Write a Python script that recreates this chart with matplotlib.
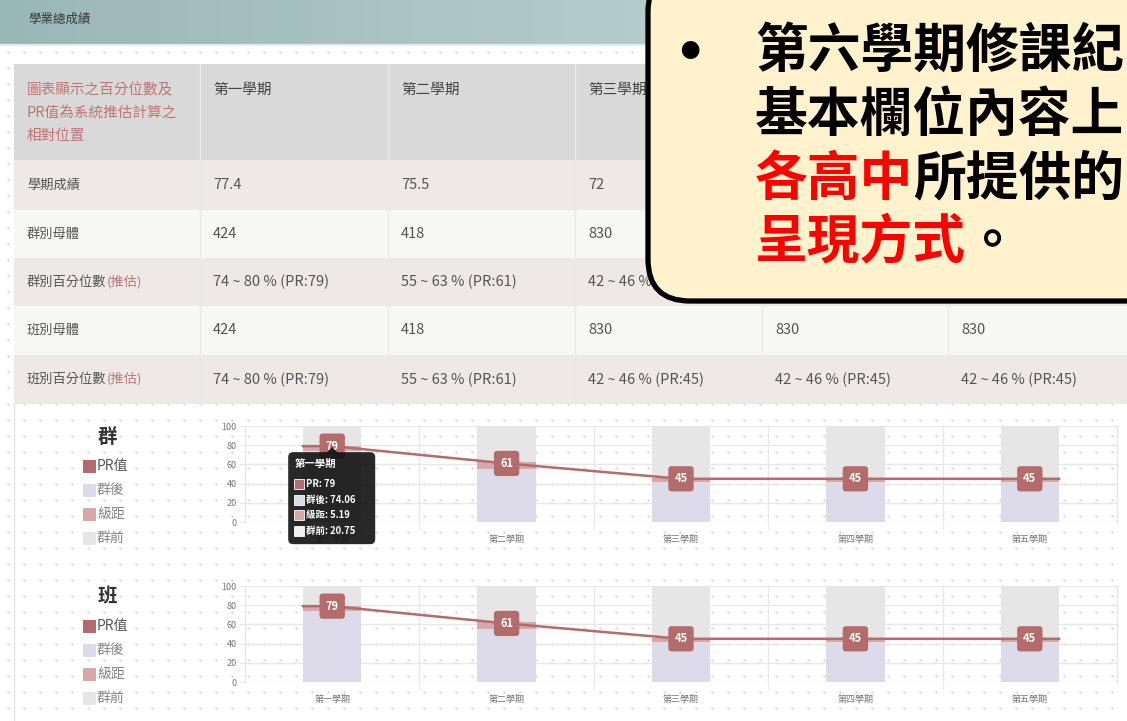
import numpy as np
import matplotlib.pyplot as plt
from matplotlib.patches import Rectangle, FancyBboxPatch, Polygon
from matplotlib.colors import LinearSegmentedColormap

plt.rcParams['font.family'] = ['Noto Sans CJK TC', 'DejaVu Sans']

# ---- data ----
semesters = ['第一學期', '第二學期', '第三學期', '第四學期', '第五學期']
scores = ['77.4', '75.5', '72', '', '']          # last two hidden by the callout
group_pop = ['424', '418', '830', '830', '830']
group_pct = ['74 ~ 80 % (PR:79)', '55 ~ 63 % (PR:61)', '42 ~ 46 % (PR:45)',
             '42 ~ 46 % (PR:45)', '42 ~ 46 % (PR:45)']
class_pop = ['424', '418', '830', '830', '830']
class_pct = ['74 ~ 80 % (PR:79)', '55 ~ 63 % (PR:61)', '42 ~ 46 % (PR:45)',
             '42 ~ 46 % (PR:45)', '42 ~ 46 % (PR:45)']

pr = [79, 61, 45, 45, 45]
after = [74.06, 55.26, 41.93, 41.93, 41.93]     # 群後
gap = [5.19, 7.66, 4.22, 4.22, 4.22]            # 級距
before = [20.75, 37.08, 53.85, 53.85, 53.85]    # 群前

# colours
c_pr = '#b36b6b'
c_after = '#dddbea'
c_gap = '#d8a8a8'
c_before = '#e6e6e6'
txt = '#555555'
red_lbl = '#c07575'

W, H = 1127, 721
# callout box (pixels); table cells fully under it are not drawn
cb_x0, cb_y1 = 648, 301

fig = plt.figure(figsize=(W / 100, H / 100), dpi=100)

# background axes in pixel coordinates (y downwards)
bg = fig.add_axes([0, 0, 1, 1])
bg.set_xlim(0, W)
bg.set_ylim(H, 0)
bg.axis('off')

# dotted page background
xx, yy = np.meshgrid(np.arange(8, W, 16), np.arange(52, H, 16))
bg.plot(xx.ravel(), yy.ravel(), '.', color='#efcbd8', ms=1.5, zorder=0)

# header band with gradient
grad = np.linspace(0, 1, 256).reshape(1, -1)
cmap = LinearSegmentedColormap.from_list('hdr', ['#9ab7b7', '#c9dbdb'])
bg.imshow(grad, cmap=cmap, extent=(0, W, 45, 0), aspect='auto', zorder=1)
bg.plot([0, W], [45, 45], color='#e4ecec', lw=1.5, zorder=2)
bg.text(28, 19, '學業總成績', fontsize=9, color='#3a3a3a', va='center', zorder=3)

# ---- table ----
col_edges = [14, 200, 388, 575, 762, 948, 1140]
row_edges = [64, 160, 210, 258, 306, 355, 404]
row_fill = ['#d9d9d9', '#eee9e6', '#f7f7f4', '#eee9e6', '#f7f7f4', '#eee9e6']
for r in range(len(row_edges) - 1):
    bg.add_patch(Rectangle((col_edges[0], row_edges[r]), col_edges[-1] - col_edges[0],
                           row_edges[r + 1] - row_edges[r], fc=row_fill[r], ec='none', zorder=2))
for x in col_edges[1:-1]:
    bg.plot([x, x], [row_edges[0], row_edges[-1]], color='#e9e9e9', lw=1, zorder=3)


def visible(x, y):
    return not (x >= cb_x0 and y <= cb_y1)


for i, line in enumerate(['圖表顯示之百分位數及', 'PR值為系統推估計算之', '相對位置']):
    bg.text(27, 90 + i * 23, line, fontsize=10.5, color=red_lbl, va='center', zorder=4)
for j, s in enumerate(semesters):
    if visible(col_edges[j + 1] + 13, 90):
        bg.text(col_edges[j + 1] + 13, 90, s, fontsize=10.5, color='#444444', va='center', zorder=4)

row_labels = [('學期成績', ''), ('群別母體', ''), ('群別百分位數', '(推估)'),
              ('班別母體', ''), ('班別百分位數', '(推估)')]
row_values = [scores, group_pop, group_pct, class_pop, class_pct]
for r, ((lab, extra), vals) in enumerate(zip(row_labels, row_values)):
    yc = (row_edges[r + 1] + row_edges[r + 2]) / 2
    t = bg.text(27, yc, lab, fontsize=9.5, color=txt, va='center', zorder=4)
    if extra:
        bg.annotate(extra, xy=(1, 0), xycoords=t, va='bottom', ha='left',
                    fontsize=9.5, color=red_lbl, zorder=4)
    for j, v in enumerate(vals):
        if visible(col_edges[j + 1] + 13, yc):
            bg.text(col_edges[j + 1] + 13, yc, v, fontsize=10.5, color=txt, va='center', zorder=4)

# left panel border
bg.plot([14, 14], [404, H], color='#e3e3e3', lw=1, zorder=3)


# ---- charts ----
def draw_chart(top, bottom, title):
    ax = fig.add_axes([245 / W, (H - bottom) / H, 872 / W, (bottom - top) / H])
    ax.set_facecolor('none')
    ax.set_zorder(2)
    x = np.arange(len(semesters))
    bw = 0.335
    ax.bar(x, after, bw, color=c_after, zorder=2)
    ax.bar(x, gap, bw, bottom=after, color=c_gap, zorder=2)
    ax.bar(x, before, bw, bottom=np.add(after, gap), color=c_before, zorder=2)
    lx = np.concatenate([[x[0] - bw / 2], x, [x[-1] + bw / 2]])
    ly = np.concatenate([[pr[0]], pr, [pr[-1]]])
    ax.plot(lx, ly, color=c_pr, lw=1.8, zorder=3)
    for xi, v in zip(x, pr):
        ax.text(xi, v, str(v), ha='center', va='center', color='white', fontsize=8,
                fontweight='bold', zorder=4,
                bbox=dict(boxstyle='round,pad=0.55,rounding_size=0.3', fc=c_pr, ec='none'))
    ax.set_xlim(-0.5, len(semesters) - 0.5)
    ax.set_ylim(0, 100)
    ax.set_yticks(range(0, 101, 20))
    ax.set_xticks(x)
    ax.set_xticklabels(semesters)
    ax.set_xticks(np.arange(0.5, len(semesters) - 1, 1), minor=True)
    ax.grid(axis='y', color='#e8e8e8', lw=1, zorder=1)
    ax.grid(axis='x', which='minor', color='#e8e8e8', lw=1, zorder=1)
    ax.tick_params(axis='y', labelsize=6.5, labelcolor='#777777', length=4, color='#e8e8e8', pad=2)
    ax.tick_params(axis='x', which='major', labelsize=6.5, labelcolor='#777777', length=0, pad=9)
    ax.tick_params(axis='x', which='minor', length=6, color='#e8e8e8')
    for side in ['top', 'bottom']:
        ax.spines[side].set_visible(False)
    for side in ['left', 'right']:
        ax.spines[side].set_color('#e4e4e4')

    # legend at the left (pixel coords)
    bg.text(107, top + 11, title, fontsize=14, color='#333333', ha='center', va='center',
            fontweight='bold', zorder=4)
    items = [('PR值', c_pr, '#555555'), ('群後', c_after, '#888888'),
             ('級距', c_gap, '#888888'), ('群前', c_before, '#888888')]
    for k, (name, col, tc) in enumerate(items):
        yc = top + 40 + k * 24
        bg.add_patch(Rectangle((83, yc - 6), 13, 13, fc=col, ec='none', zorder=4))
        bg.text(97, yc, name, fontsize=10, color=tc, va='center', zorder=4)
    return ax


ax1 = draw_chart(426, 522, '群')
ax2 = draw_chart(586, 682, '班')

# ---- overlay: tooltip and callout ----
ov = fig.add_axes([0, 0, 1, 1])
ov.set_xlim(0, W)
ov.set_ylim(H, 0)
ov.axis('off')
ov.set_zorder(5)

# tooltip anchored at the first PR point of the 群 chart
ax_, ay_ = ax1.transData.transform((0, pr[0]))
px, py = ax_, H - ay_
tip_top = py + 2
ov.add_patch(Polygon([[px - 6, tip_top + 5], [px + 6, tip_top + 5], [px, tip_top - 1]],
                     closed=True, fc='#151515', ec='none', alpha=0.92))
ov.add_patch(FancyBboxPatch((px - 44, tip_top + 4), 87, 92,
                            boxstyle='round,pad=0,rounding_size=5',
                            fc='#151515', ec='none', alpha=0.92))
ov.text(px - 38, tip_top + 16, semesters[0], fontsize=7.5, color='white',
        fontweight='bold', va='center')
tip_rows = [('PR: %d' % pr[0], c_pr), ('群後: %.2f' % after[0], c_after),
            ('級距: %.2f' % gap[0], c_gap), ('群前: %.2f' % before[0], '#f2f2f2')]
for k, (s, col) in enumerate(tip_rows):
    yc = tip_top + 36 + k * 15.5
    ov.add_patch(Rectangle((px - 38, yc - 5), 10, 10, fc=col, ec='white', lw=0.6))
    ov.text(px - 26, yc, s, fontsize=6.8, color='white', va='center', fontweight='bold')

# callout box
ov.add_patch(FancyBboxPatch((cb_x0, -30), 520, cb_y1 + 30, boxstyle='round,pad=0,rounding_size=42',
                            fc='#fff2cc', ec='black', lw=3.8))
ov.text(690, 58, '•', fontsize=60, color='black', ha='center', va='center')
fs = 38
ov.text(755, 51, '第六學期修課紀', fontsize=fs, fontweight='bold', color='black', va='center')
ov.text(755, 115, '基本欄位內容上', fontsize=fs, fontweight='bold', color='black', va='center')
t3 = ov.text(755, 179, '各高中', fontsize=fs, fontweight='bold', color='#ff0000', va='center')
ov.annotate('所提供的', xy=(1, 0), xycoords=t3, va='bottom', ha='left',
            fontsize=fs, fontweight='bold', color='black')
t4 = ov.text(755, 243, '呈現方式', fontsize=fs, fontweight='bold', color='#ff0000', va='center')
ov.annotate('。', xy=(1, 0), xycoords=t4, va='bottom', ha='left',
            fontsize=fs, fontweight='bold', color='black')

fig.savefig('out.png', dpi=100)
